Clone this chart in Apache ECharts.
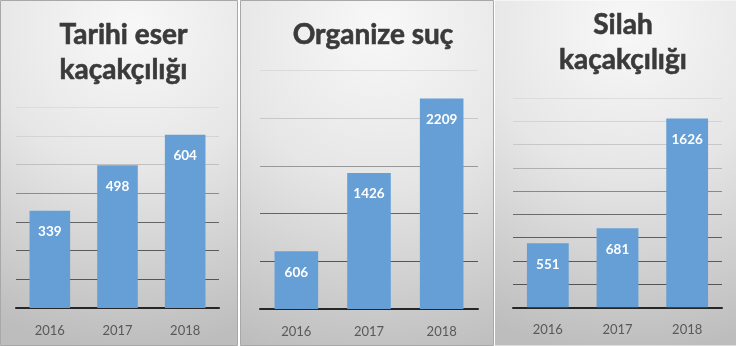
<!DOCTYPE html>
<html>
<head>
<meta charset="utf-8">
<script src="https://cdn.jsdelivr.net/npm/echarts@6/dist/echarts.min.js"></script>
<style>
html,body{margin:0;padding:0;background:#fff;}
#c{width:736px;height:346px;}
</style>
</head>
<body>
<div id="c"></div>
<script>
const years = ['2016', '2017', '2018'];
const tarihiEser = [339, 498, 604];
const organizeSuc = [606, 1426, 2209];
const silahKacak = [551, 681, 1626];
const titles = ['Tarihi eser\nkaçakçılığı', 'Organize suç', 'Silah\nkaçakçılığı'];
const axisMax = [700, 2500, 1800];
const axisStep = [100, 500, 200];

const FONT = 'Lato';
const grids = [
  {left: 16, width: 203, top: 107.3, bottom: 38},
  {left: 260, width: 218, top: 70.7, bottom: 37},
  {left: 513, width: 209, top: 98.3, bottom: 38.7}
];
const gridColors = [
  ['#262626','#555555','#5a5a5a','#646464','#8c8c8c','#c0c0c0','#d4d4d4','#dcdcdc'],
  ['#262626','#555555','#646464','#989898','#c8c8c8','#dadada'],
  ['#262626','#555555','#5a5a5a','#5e5e5e','#6c6c6c','#888888','#b0b0b0','#c8c8c8','#d4d4d4','#dcdcdc']
];
const titlePos = [
  {cx: 118.5, top: 12},
  {cx: 368, top: 12},
  {cx: 618, top: 2}
];
const panels = [
  {x: 0.5, w: 237, stroke: '#a8a8a8'},
  {x: 240.5, w: 253, stroke: '#a8a8a8'},
  {x: 495, w: 241, stroke: null}
];
const seriesData = [tarihiEser, organizeSuc, silahKacak];

function bg(p) {
  return {
    type: 'rect', silent: true, z: -10,
    shape: {x: p.x, y: 0.5, width: p.w, height: 345},
    style: {
      fill: new echarts.graphic.RadialGradient(0.55, 0.08, 1.35, [
        {offset: 0, color: '#f8f8f8'},
        {offset: 0.45, color: '#e6e6e6'},
        {offset: 1, color: '#bdbdbd'}
      ]),
      stroke: p.stroke, lineWidth: p.stroke ? 1 : 0
    }
  };
}

const option = {
  animation: false,
  backgroundColor: '#ffffff',
  graphic: panels.map(bg),
  title: titles.map((t, i) => ({
    text: t,
    left: titlePos[i].cx, top: titlePos[i].top,
    textAlign: 'center',
    textStyle: {fontFamily: FONT, fontWeight: 'bold', fontSize: 28, lineHeight: 35, color: '#3a3a3a',
      textBorderColor: '#3a3a3a', textBorderWidth: 0.6}
  })),
  grid: grids.map(g => Object.assign({containLabel: false}, g)),
  xAxis: grids.map((g, i) => ({
    type: 'category', gridIndex: i, data: years,
    axisTick: {show: false},
    axisLine: {show: true, lineStyle: {color: '#262626', width: 2}},
    axisLabel: {fontFamily: FONT, fontSize: 13, color: '#595959', margin: 16}
  })),
  yAxis: grids.map((g, i) => ({
    type: 'value', gridIndex: i, min: 0, max: axisMax[i], interval: axisStep[i],
    axisLabel: {show: false}, axisLine: {show: false}, axisTick: {show: false},
    splitLine: {show: true, lineStyle: {color: gridColors[i], width: 1}}
  })),
  series: seriesData.map((d, i) => ({
    type: 'bar', xAxisIndex: i, yAxisIndex: i, data: d,
    barWidth: '60%',
    itemStyle: {color: '#669fd6'},
    label: {show: true, position: 'insideTop', distance: 14, color: '#ffffff',
      fontFamily: FONT, fontWeight: 'bold', fontSize: 13.5}
  }))
};
const chart = echarts.init(document.getElementById('c'), null, {renderer: 'canvas'});
chart.setOption(option);
</script>
</body>
</html>
